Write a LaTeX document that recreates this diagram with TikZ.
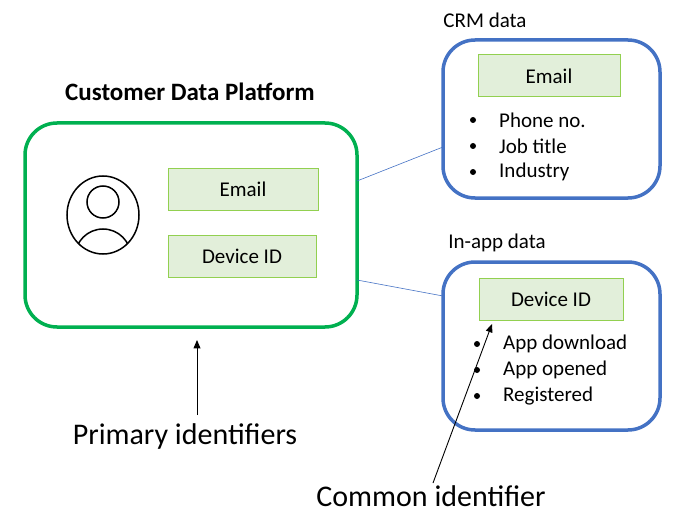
\documentclass[tikz,border=0pt]{standalone}
\usepackage{fontspec}
\setmainfont{Carlito}
\usetikzlibrary{arrows}

\definecolor{cdpgreen}{HTML}{00B050}
\definecolor{srcblue}{HTML}{4472C4}
\definecolor{idline}{HTML}{92D050}
\definecolor{idfill}{HTML}{E2EFDA}

\tikzset{
  idbox/.style={draw=idline, fill=idfill, line width=1pt},
  groupbox/.style={rounded corners=32pt, line width=3.5pt},
  link/.style={draw=srcblue, line width=0.6pt},
  txt/.style={font=\fontsize{21}{24}\selectfont},
  dot/.style={circle, fill, inner sep=0pt, minimum size=6pt}
}

\begin{document}
\begin{tikzpicture}[x=1pt,y=-1pt]
\useasboundingbox (0,0) rectangle (681,527);

\draw[groupbox, draw=cdpgreen] (25,123) rectangle (357,327);
\node at (190,92) {\fontsize{25}{28}\selectfont\bfseries Customer Data Platform};
\draw[idbox] (168,168) rectangle node[txt] (cdpemail) {Email} (318,210);
\draw[idbox] (168,235) rectangle node[txt] (cdpdev) {Device ID} (316,277);

% person icon
\draw[line width=1.5pt] (103,215) ellipse (36 and 39);
\draw[line width=1.5pt] (103,202) circle (16);
\begin{scope}
\clip (103,215) ellipse (36 and 39);
\draw[line width=1.5pt] (75,257) arc[start angle=180, end angle=360, radius=28];
\end{scope}

% CRM data
\node[txt] at (485,20) {CRM data};
\draw[groupbox, draw=srcblue] (443,40) rectangle (660,198);
\draw[idbox] (478,55) rectangle node[txt] (crmemail) {Email} (620,97);
\foreach \y/\t in {120/Phone no., 146/Job title, 172/Industry} {
  \node[dot] at (473,\y) {};
  \node[txt, anchor=west, inner sep=0pt] at (499,\y) {\t};
}

% in-app data
\node[txt] at (497,243) {In-app data};
\draw[groupbox, draw=srcblue] (443,262) rectangle (660,430);
\draw[idbox] (479,278) rectangle node[txt] (appdev) {Device ID} (623,320);
\foreach \y/\t in {344/App download, 370/App opened, 396/Registered} {
  \node[dot] at (477,\y) {};
  \node[txt, anchor=west, inner sep=0pt] at (503,\y) {\t};
}

% links
\coordinate (cdpr1) at (357,181);
\coordinate (crml) at (443,147);
\coordinate (cdpr2) at (357,280);
\coordinate (appl) at (443,296);
\draw[link] (cdpr1) -- (crml);
\draw[link] (cdpr2) -- (appl);

% labels
\node (primary) at (185,437) {\fontsize{30}{34}\selectfont Primary identifiers};
\coordinate (primtip) at (197,340);
\draw[-triangle 45, line width=0.9pt] (197,415) -- (primtip);
\node (common) at (431,496) {\fontsize{30}{34}\selectfont Common identifier};
\coordinate (comtip) at (492,324);
\draw[-triangle 45, line width=0.9pt] (433,483) -- (comtip);
\end{tikzpicture}
\end{document}
